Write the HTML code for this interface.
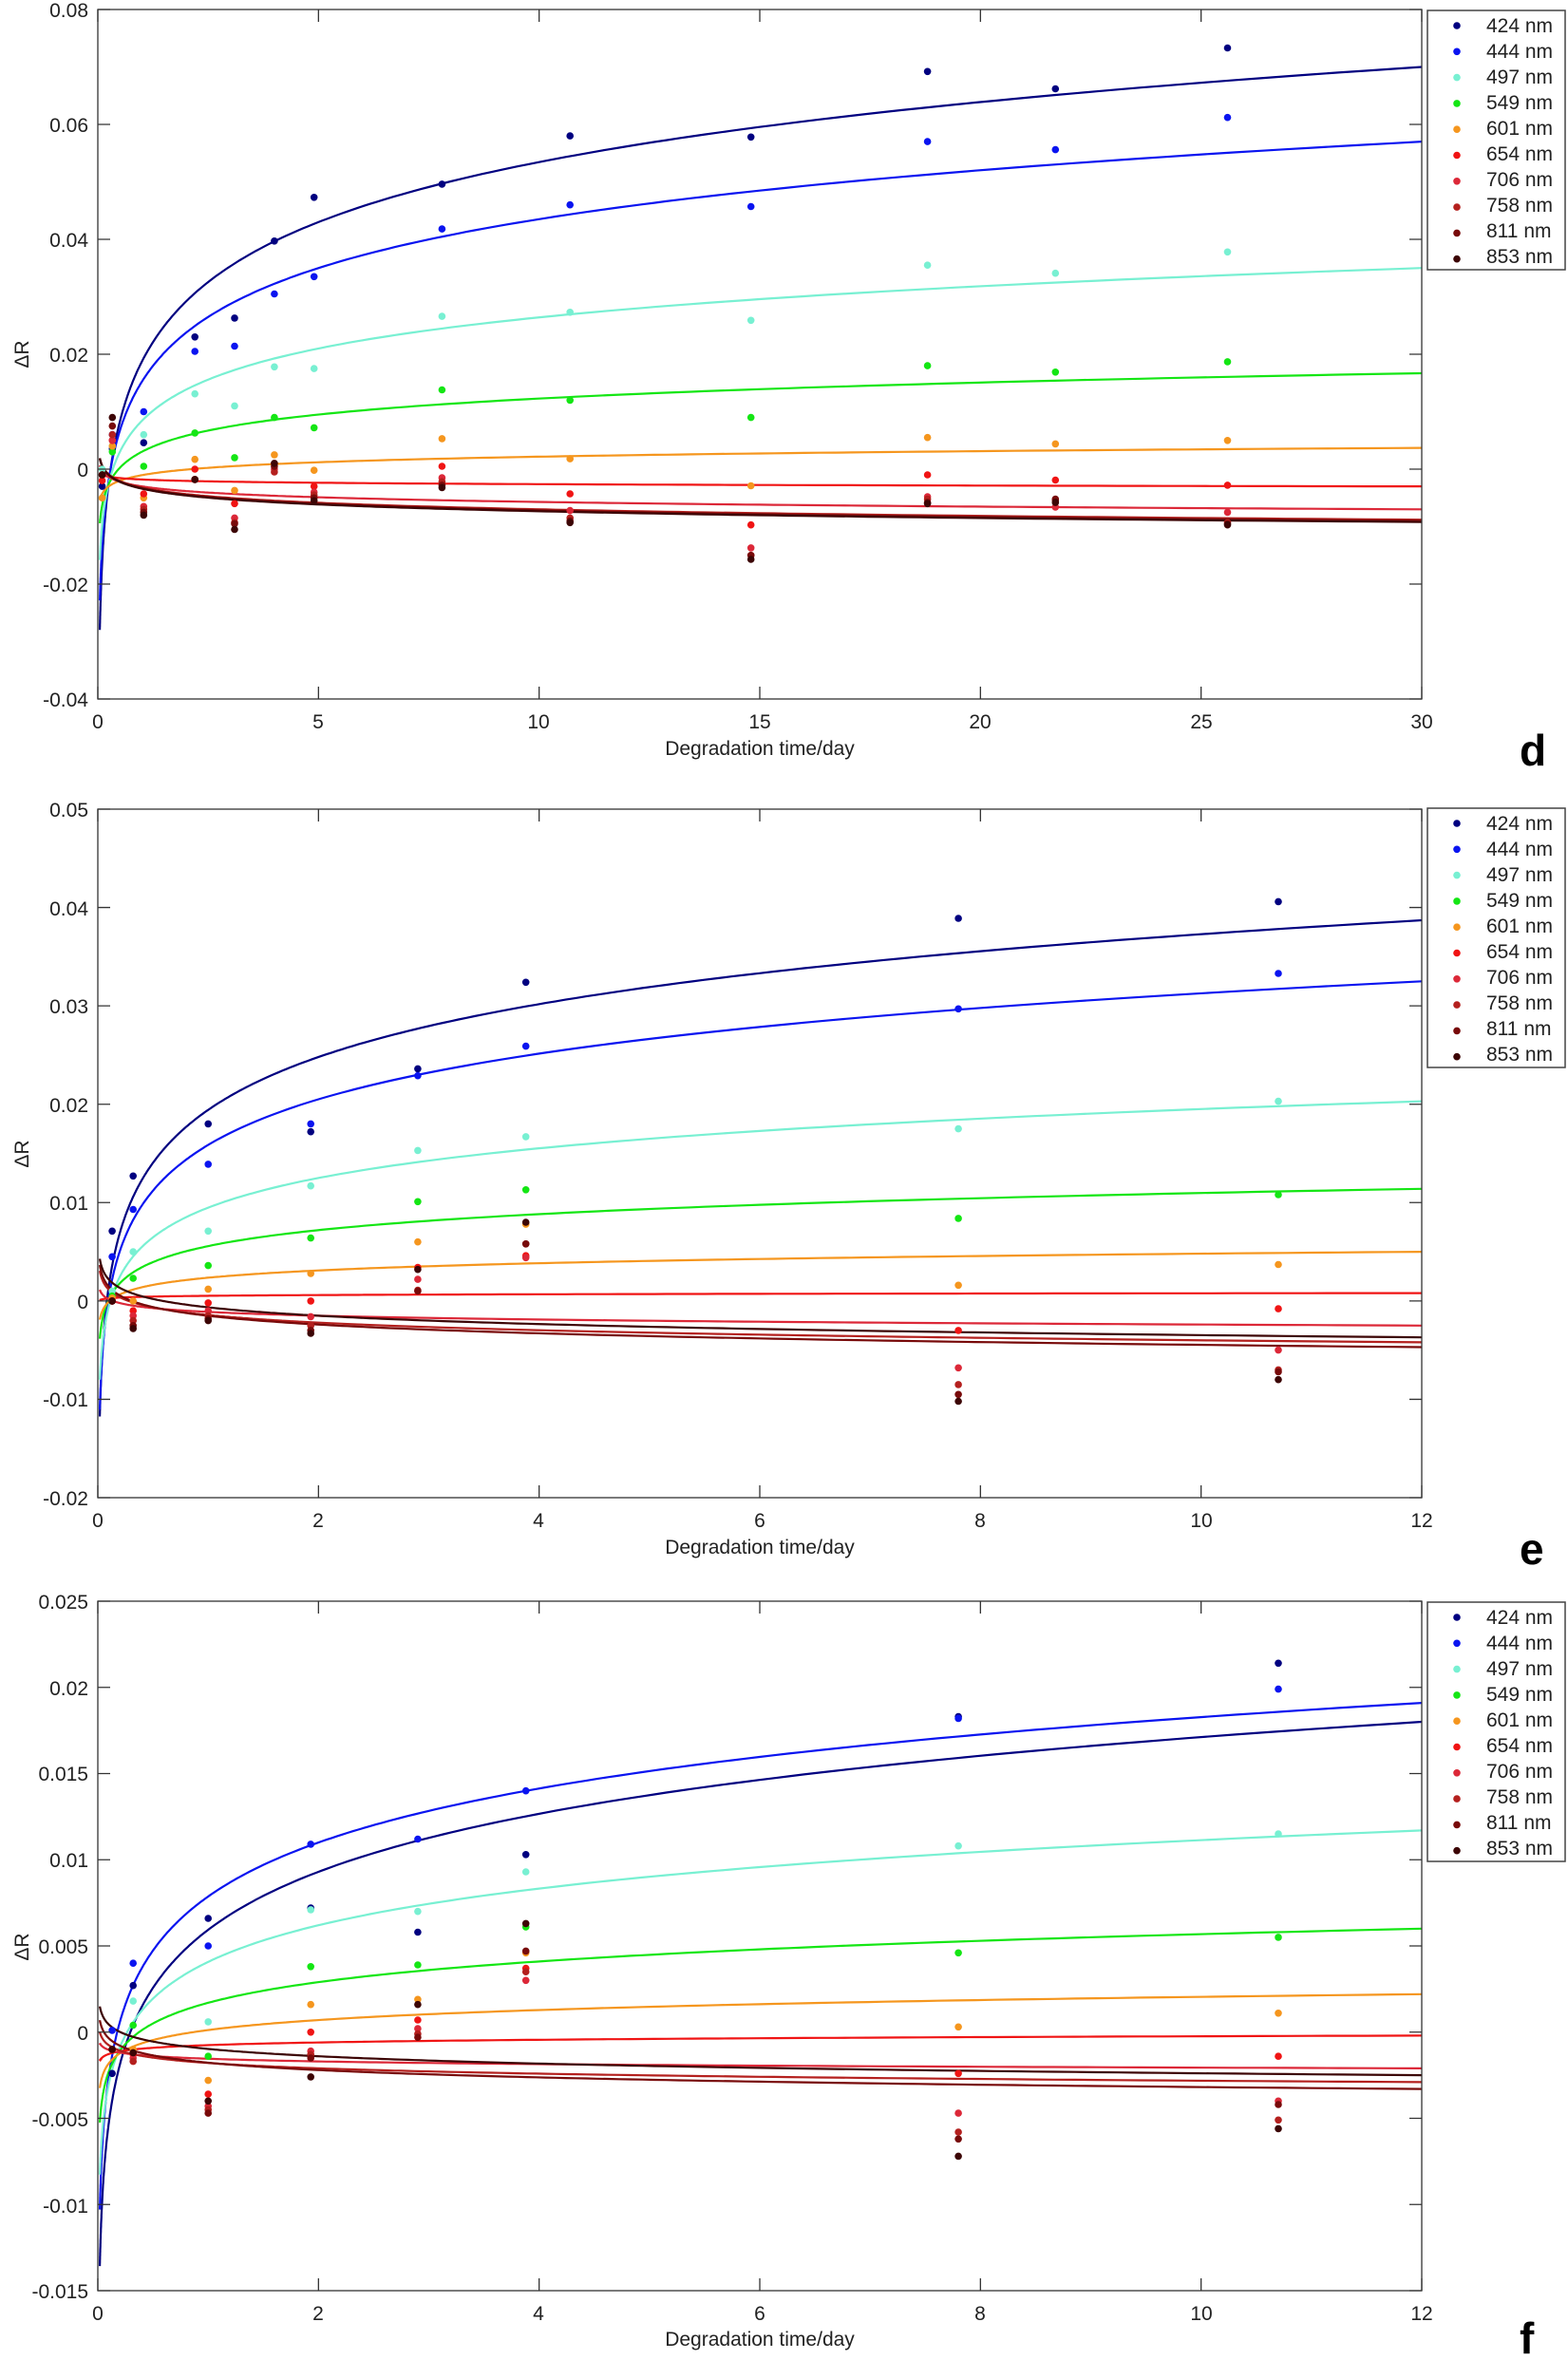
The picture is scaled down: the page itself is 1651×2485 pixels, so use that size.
<!DOCTYPE html>
<html><head><meta charset="utf-8"><style>
html,body{margin:0;padding:0;background:#fff;}
svg text{font-family:"Liberation Sans",sans-serif;fill:#222;}
</style></head><body>
<svg id="s" width="1651" height="2480" xmlns="http://www.w3.org/2000/svg">
<rect width="1651" height="2480" fill="#fff"/>
<g font-size="21">
<!-- Panel d labels -->
<g text-anchor="end">
<text x="93" y="18">0.08</text><text x="93" y="139">0.06</text><text x="93" y="260">0.04</text><text x="93" y="381">0.02</text><text x="93" y="502">0</text><text x="93" y="623">-0.02</text><text x="93" y="744">-0.04</text>
</g>
<g text-anchor="middle">
<text x="103" y="767">0</text><text x="335" y="767">5</text><text x="567" y="767">10</text><text x="800" y="767">15</text><text x="1032" y="767">20</text><text x="1265" y="767">25</text><text x="1497" y="767">30</text>
<text x="800" y="795">Degradation time/day</text>
</g>
<text transform="translate(30,373) rotate(-90)" text-anchor="middle">ΔR</text>
<text x="1600" y="806" font-size="46" font-weight="bold" style="fill:#000">d</text>
<!-- Panel e labels -->
<g text-anchor="end">
<text x="93" y="860">0.05</text><text x="93" y="964">0.04</text><text x="93" y="1067">0.03</text><text x="93" y="1171">0.02</text><text x="93" y="1274">0.01</text><text x="93" y="1378">0</text><text x="93" y="1481">-0.01</text><text x="93" y="1585">-0.02</text>
</g>
<g text-anchor="middle">
<text x="103" y="1608">0</text><text x="335" y="1608">2</text><text x="567" y="1608">4</text><text x="800" y="1608">6</text><text x="1032" y="1608">8</text><text x="1265" y="1608">10</text><text x="1497" y="1608">12</text>
<text x="800" y="1636">Degradation time/day</text>
</g>
<text transform="translate(30,1215) rotate(-90)" text-anchor="middle">ΔR</text>
<text x="1600" y="1647" font-size="46" font-weight="bold" style="fill:#000">e</text>
<!-- Panel f labels -->
<g text-anchor="end">
<text x="93" y="1694">0.025</text><text x="93" y="1785">0.02</text><text x="93" y="1875">0.015</text><text x="93" y="1966">0.01</text><text x="93" y="2057">0.005</text><text x="93" y="2148">0</text><text x="93" y="2239">-0.005</text><text x="93" y="2330">-0.01</text><text x="93" y="2420">-0.015</text>
</g>
<g text-anchor="middle">
<text x="103" y="2443">0</text><text x="335" y="2443">2</text><text x="567" y="2443">4</text><text x="800" y="2443">6</text><text x="1032" y="2443">8</text><text x="1265" y="2443">10</text><text x="1497" y="2443">12</text>
<text x="800" y="2470">Degradation time/day</text>
</g>
<text transform="translate(30,2050) rotate(-90)" text-anchor="middle">ΔR</text>
<text x="1600" y="2478" font-size="46" font-weight="bold" style="fill:#000">f</text>
<!-- Legends -->
<g font-size="21">
<rect x="1503" y="11" width="145" height="273" fill="#fff" stroke="#444" stroke-width="1.5"/>
<text x="1565" y="34">424 nm</text><text x="1565" y="61">444 nm</text><text x="1565" y="88">497 nm</text><text x="1565" y="115">549 nm</text><text x="1565" y="142">601 nm</text><text x="1565" y="169">654 nm</text><text x="1565" y="196">706 nm</text><text x="1565" y="223">758 nm</text><text x="1565" y="250">811 nm</text><text x="1565" y="277">853 nm</text>
<rect x="1503" y="851" width="145" height="273" fill="#fff" stroke="#444" stroke-width="1.5"/>
<text x="1565" y="874">424 nm</text><text x="1565" y="901">444 nm</text><text x="1565" y="928">497 nm</text><text x="1565" y="955">549 nm</text><text x="1565" y="982">601 nm</text><text x="1565" y="1009">654 nm</text><text x="1565" y="1036">706 nm</text><text x="1565" y="1063">758 nm</text><text x="1565" y="1090">811 nm</text><text x="1565" y="1117">853 nm</text>
<rect x="1503" y="1687" width="145" height="273" fill="#fff" stroke="#444" stroke-width="1.5"/>
<text x="1565" y="1710">424 nm</text><text x="1565" y="1737">444 nm</text><text x="1565" y="1764">497 nm</text><text x="1565" y="1791">549 nm</text><text x="1565" y="1818">601 nm</text><text x="1565" y="1845">654 nm</text><text x="1565" y="1872">706 nm</text><text x="1565" y="1899">758 nm</text><text x="1565" y="1926">811 nm</text><text x="1565" y="1953">853 nm</text>
</g>
</g>
<g id="plots"></g>
</svg>
<script>
var C=["#000080","#0a14f0","#78f0d2","#14e614","#f5961e","#f01414","#dc2838","#b4201e","#780a0a","#3c0505"];
var P=[
{top:10,bot:736,xmax:30,ymin:-0.04,ymax:0.08,yt:[-0.04,-0.02,0,0.02,0.04,0.06,0.08],xt:[0,5,10,15,20,25,30],ly:27,
 fit:[[5,.043,30,.070],[5,.035,30,.057],[5,.021,30,.035],[5,.0095,30,.0167],[5,.0012,30,.0037],[1,-.0018,30,-.003],[1,-.003,30,-.007],[1,-.0032,30,-.0088],[1,-.0033,30,-.009],[1,-.0034,30,-.0092]],
 pts:[[0.1,[-.003,-.001,.0,-.001,-.005,-.002,-.001,-.001,-.001,-.001]],
 [0.33,[.0035,.006,.004,.003,.004,.005,.005,.006,.0075,.009]],
 [1.04,[.0046,.010,.006,.0005,-.005,-.0043,-.0065,-.007,-.0075,-.008]],
 [2.2,[.023,.0205,.0131,.0063,.0017,0,-.0018,-.0018,-.0018,-.0018]],
 [3.1,[.0263,.0214,.011,.002,-.0037,-.006,-.0085,-.0093,-.0095,-.0105]],
 [4.0,[.0397,.0305,.0178,.009,.0025,.001,0,-.0005,.0005,.001]],
 [4.9,[.0473,.0335,.0175,.0072,-.0002,-.003,-.004,-.0045,-.005,-.0055]],
 [7.8,[.0496,.0418,.0266,.0138,.0053,.0005,-.0015,-.0022,-.0028,-.0032]],
 [10.7,[.058,.046,.0273,.012,.0018,-.0043,-.0072,-.0085,-.009,-.0093]],
 [14.8,[.0578,.0457,.0259,.009,-.0029,-.0097,-.0137,-.015,-.015,-.0157]],
 [18.8,[.0692,.057,.0355,.018,.0055,-.001,-.0048,-.0052,-.0058,-.006]],
 [21.7,[.0662,.0556,.0341,.0169,.0044,-.0019,-.0066,-.0055,-.0052,-.0058]],
 [25.6,[.0733,.0612,.0378,.0187,.005,-.0028,-.0075,-.0093,-.0095,-.0097]]]},
{top:852,bot:1577,xmax:12,ymin:-0.02,ymax:0.05,yt:[-0.02,-0.01,0,0.01,0.02,0.03,0.04,0.05],xt:[0,2,4,6,8,10,12],ly:867,
 fit:[[2,.0248,12,.0387],[2,.0205,12,.0325],[2,.0125,12,.0203],[2,.0072,12,.0114],[2,.0031,12,.005],[2,.0006,12,.0008],[2,-.0015,12,-.0025],[2,-.0022,12,-.0042],[2,-.0024,12,-.0047],[2,-.0015,12,-.0037]],
 pts:[[0.13,[.0071,.0045,.001,.0005,.0003,0,0,0,0,0]],
 [0.32,[.0127,.0093,.005,.0023,0,-.001,-.0015,-.002,-.0025,-.0028]],
 [1.0,[.018,.0139,.0071,.0036,.0012,-.0002,-.001,-.0015,-.0018,-.002]],
 [1.93,[.0172,.018,.0117,.0064,.0028,0,-.0016,-.0025,-.003,-.0033]],
 [2.9,[.0236,.0229,.0153,.0101,.006,.0034,.0022,.0011,.001,.0032]],
 [3.88,[.0324,.0259,.0167,.0113,.0078,.0046,.0044,.0058,.0058,.008]],
 [7.8,[.0389,.0297,.0175,.0084,.0016,-.003,-.0068,-.0085,-.0095,-.0102]],
 [10.7,[.0406,.0333,.0203,.0108,.0037,-.0008,-.005,-.007,-.0072,-.008]]]},
{top:1686,bot:2412,xmax:12,ymin:-0.015,ymax:0.025,yt:[-0.015,-0.01,-0.005,0,0.005,0.01,0.015,0.02,0.025],xt:[0,2,4,6,8,10,12],ly:1703,
 fit:[[2,.0093,12,.018],[2,.011,12,.0191],[2,.0062,12,.0117],[2,.0029,12,.006],[2,.0007,12,.0022],[2,-.0006,12,-.0002],[2,-.0017,12,-.0021],[2,-.0021,12,-.0029],[2,-.0022,12,-.0033],[2,-.0014,12,-.0025]],
 pts:[[0.13,[-.0024,.0001,-.001,-.001,-.001,-.001,-.001,-.001,-.001,-.001]],
 [0.32,[.0027,.004,.0018,.0004,-.001,-.0013,-.0015,-.0017,-.0012,-.0012]],
 [1.0,[.0066,.005,.0006,-.0014,-.0028,-.0036,-.0043,-.0045,-.0047,-.004]],
 [1.93,[.0072,.0109,.0071,.0038,.0016,0,-.0011,-.0013,-.0015,-.0026]],
 [2.9,[.0058,.0112,.007,.0039,.0019,.0007,.0002,-.0001,-.0003,.0016]],
 [3.88,[.0103,.014,.0093,.0061,.0046,.0037,.003,.0035,.0047,.0063]],
 [7.8,[.0183,.0182,.0108,.0046,.0003,-.0024,-.0047,-.0058,-.0062,-.0072]],
 [10.7,[.0214,.0199,.0115,.0055,.0011,-.0014,-.004,-.0051,-.0042,-.0056]]]}];
var L=103,R=1497,o="";
P.forEach(function(p,pi){
 function X(t){return L+(R-L)*t/p.xmax;}
 function Y(v){return p.bot-(p.bot-p.top)*(v-p.ymin)/(p.ymax-p.ymin);}
 var cid="c"+pi;
 o+='<clipPath id="'+cid+'"><rect x="'+L+'" y="'+p.top+'" width="'+(R-L)+'" height="'+(p.bot-p.top)+'"/></clipPath>';
 o+='<g clip-path="url(#'+cid+')">';
 p.fit.forEach(function(f,i){
  var b=(f[3]-f[1])/Math.log(f[2]/f[0]),a=f[1]-b*Math.log(f[0]);
  var d="",t0=p.xmax*0.0015;
  for(var k=0;k<=300;k++){var t=t0*Math.pow(p.xmax/t0,k/300);d+=(k?"L":"M")+X(t).toFixed(1)+" "+Y(a+b*Math.log(t)).toFixed(1);}
  o+='<path d="'+d+'" fill="none" stroke="'+C[i]+'" stroke-width="2.2"/>';
 });
 p.pts.forEach(function(q){q[1].forEach(function(v,i){o+='<circle cx="'+X(q[0]).toFixed(1)+'" cy="'+Y(v).toFixed(1)+'" r="3.8" fill="'+C[i]+'"/>';});});
 o+='</g>';
 o+='<rect x="'+L+'" y="'+p.top+'" width="'+(R-L)+'" height="'+(p.bot-p.top)+'" fill="none" stroke="#333" stroke-width="1.3"/>';
 p.yt.forEach(function(v){var y=Y(v);o+='<path d="M'+L+' '+y+'h13M'+R+' '+y+'h-13" stroke="#333" stroke-width="1.3"/>';});
 p.xt.forEach(function(t){var x=X(t);o+='<path d="M'+x+' '+p.bot+'v-13M'+x+' '+p.top+'v13" stroke="#333" stroke-width="1.3"/>';});
 for(var i=0;i<10;i++)o+='<circle cx="1534" cy="'+(p.ly+27.3*i)+'" r="3.8" fill="'+C[i]+'"/>';
});
document.getElementById("plots").innerHTML=o;
</script>
</body></html>
